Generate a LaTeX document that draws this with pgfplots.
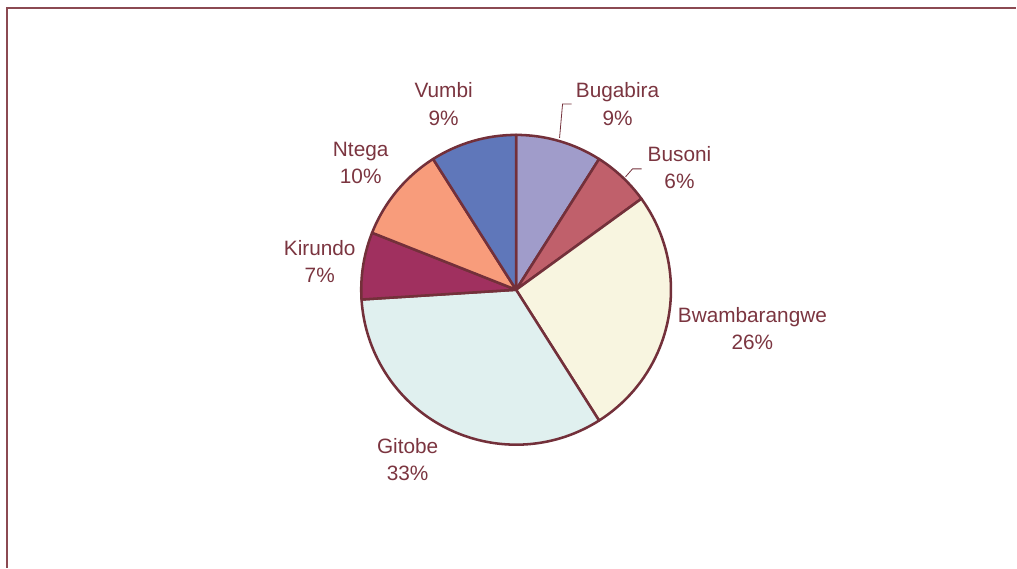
\documentclass[border=0pt]{standalone}
\usepackage{pgfplots}
\pgfplotsset{compat=1.18}
\usepackage{fontspec}
\setmainfont{Liberation Sans}
\definecolor{cBugabira}{HTML}{A09CCA}
\definecolor{cBusoni}{HTML}{C0606B}
\definecolor{cBwamba}{HTML}{F8F5E0}
\definecolor{cGitobe}{HTML}{E0F0EF}
\definecolor{cKirundo}{HTML}{A0305F}
\definecolor{cNtega}{HTML}{F89C7B}
\definecolor{cVumbi}{HTML}{5F77BA}
\definecolor{edge}{HTML}{73303A}
\definecolor{txt}{HTML}{7B3540}
\definecolor{frame}{HTML}{8B4A52}
% slice: colour, cumulative percent before, percent
\newcommand{\slice}[3]{%
  \filldraw[fill=#1, draw=edge, line width=1.9pt, line join=round]
    (axis cs:516.5,290) -- ++({90-3.6*(#2)}:116.25pt)
    arc[start angle={90-3.6*(#2)}, end angle={90-3.6*(#2+#3)}, radius=116.25pt] -- cycle;}
\newcommand{\lab}[4]{%
  \node[align=center, text=txt, font=\fontsize{15.6}{20.5}\selectfont, inner sep=0pt]
    at (axis cs:#1,#2) {#3\\#4\%};}
\begin{document}
\begin{tikzpicture}
\begin{axis}[scale only axis, width=762.75pt, height=426pt,
  xmin=0, xmax=1017, ymin=0, ymax=568, y dir=reverse,
  hide axis, clip=false]
\path (axis cs:0,0) rectangle (axis cs:1017,568);
\draw[frame, line width=1.2pt] (axis cs:7,568) -- (axis cs:7,8) -- (axis cs:1017,8);
% values (percent): Bugabira 9, Busoni 6, Bwambarangwe 26, Gitobe 33, Kirundo 7, Ntega 10, Vumbi 9
\slice{cBugabira}{0}{9}
\slice{cBusoni}{9}{6}
\slice{cBwamba}{15}{26}
\slice{cGitobe}{41}{33}
\slice{cKirundo}{74}{7}
\slice{cNtega}{81}{10}
\slice{cVumbi}{91}{9}
% leader lines
\draw[edge, line width=0.6pt] (axis cs:560,138) -- (axis cs:563,104) -- (axis cs:572,104);
\draw[edge, line width=0.6pt] (axis cs:626,177) -- (axis cs:633,169) -- (axis cs:642,169);
% labels
\lab{444}{104}{Vumbi}{9}
\lab{618}{104}{Bugabira}{9}
\lab{680}{168}{Busoni}{6}
\lab{753}{329}{Bwambarangwe}{26}
\lab{408}{460}{Gitobe}{33}
\lab{320}{262}{Kirundo}{7}
\lab{361}{163}{Ntega}{10}
\end{axis}
\end{tikzpicture}
\end{document}
